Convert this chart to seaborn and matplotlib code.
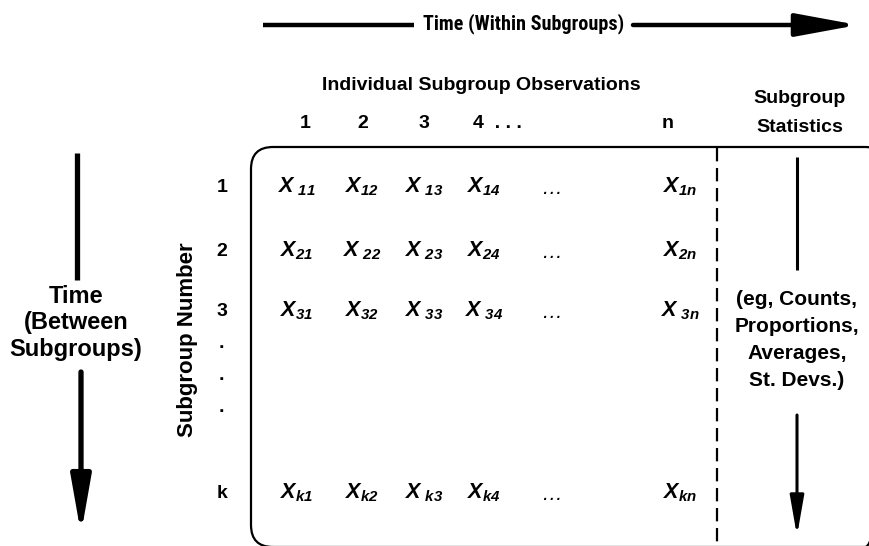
import matplotlib
matplotlib.use("Agg")
import matplotlib.pyplot as plt
import seaborn as sns
from matplotlib.patches import FancyBboxPatch, FancyArrowPatch

sns.set_theme(style="white")
plt.rcParams['font.family'] = ['Liberation Sans', 'DejaVu Sans']
plt.rcParams['mathtext.fontset'] = 'custom'
plt.rcParams['mathtext.it'] = 'Liberation Sans:italic:bold'
plt.rcParams['mathtext.rm'] = 'Liberation Sans:italic:bold'

# Diagram content
title_top = "Time (Within Subgroups)"
title_left = "Time\n(Between\nSubgroups)"
col_labels = ["1", "2", "3", "4  . . .", "n"]
row_labels = ["1", "2", "3", "k"]
cell_subs = [
    ["\\ 11", "12", "\\ 13", "14", "1n"],
    ["21", "\\ 22", "\\ 23", "24", "2n"],
    ["31", "32", "\\ 33", "\\ 34", "\\ 3n"],
    ["k1", "k2", "\\ k3", "k4", "kn"],
]
stats_text = "(eg, Counts,\nProportions,\nAverages,\nSt. Devs.)"

# layout (pixel space)
col_x = [297, 362, 424, 484, 680]
col_head_x = [305, 363, 424, 497, 668]
row_y = [187, 251, 311, 493]
ell_x = 552

fig, ax = plt.subplots(1, 1)
fig.set_size_inches(8.69, 5.46)
fig.subplots_adjust(0, 0, 1, 1)
ax.set_xlim(0, 869)
ax.set_ylim(546, 0)
ax.axis("off")

bold = dict(fontweight="bold", color="black", ha="center", va="center")

# top arrow
ax.plot([263, 414], [25, 25], color="black", lw=3.2, solid_capstyle="butt")
ax.add_patch(FancyArrowPatch((633, 25), (858, 25), arrowstyle="-|>,head_length=3.8,head_width=0.7",
                             mutation_scale=10, lw=3.2, color="black", shrinkA=0, shrinkB=0))
ax.text(524, 24, title_top, fontsize=14.5, family=['Roboto Condensed', 'DejaVu Sans'], **bold)

# headers
ax.text(481, 85, "Individual Subgroup Observations", fontsize=14, **bold)
for x, lab in zip(col_head_x, col_labels):
    ax.text(x, 123, lab, fontsize=14, **bold)
ax.text(800, 113, "Subgroup\nStatistics", fontsize=14, linespacing=1.85, **bold)

# box (right edge runs off the figure, as in the original)
ax.add_patch(FancyBboxPatch((251, 147), 636, 400, boxstyle="round,pad=0,rounding_size=22",
                            fill=False, lw=1.6, ec="black"))
ax.plot([717, 717], [148, 546], color="black", lw=1.6, ls=(0, (6, 3)))

# cells
for r, y in enumerate(row_y):
    for c, x in enumerate(col_x):
        ax.text(x, y, f"$X_{{{cell_subs[r][c]}}}$", fontsize=15.5, color="black", ha="center", va="center")
    ax.text(ell_x, y + 2, "\u2026", fontsize=15, color="black", ha="center", va="center",
            fontstyle="italic")

# row labels
for y, lab in zip(row_y, row_labels):
    ax.text(222, y, lab, fontsize=14, **bold)
for y in [343, 376, 407]:
    ax.text(221, y, ".", fontsize=14, **bold)
ax.text(188, 340, "Subgroup Number", fontsize=16, rotation=90, **bold)

# left arrow
ax.plot([77, 77], [153, 280], color="black", lw=3.8, solid_capstyle="butt")
ax.add_patch(FancyArrowPatch((81, 372), (81, 534), arrowstyle="-|>,head_length=3.4,head_width=0.6",
                             mutation_scale=10, lw=3.8, color="black", shrinkA=0, shrinkB=0))
ax.text(76, 323, title_left, fontsize=17, linespacing=1.22, **bold)

# right arrow
ax.plot([797, 797], [157, 270], color="black", lw=2.2, solid_capstyle="butt")
ax.add_patch(FancyArrowPatch((797, 415), (797, 536), arrowstyle="-|>,head_length=2.4,head_width=0.42",
                             mutation_scale=10, lw=2.2, color="black", shrinkA=0, shrinkB=0))
ax.text(797, 340, stats_text, fontsize=15, linespacing=1.55, **bold)

fig.savefig("out.png", dpi=100)
